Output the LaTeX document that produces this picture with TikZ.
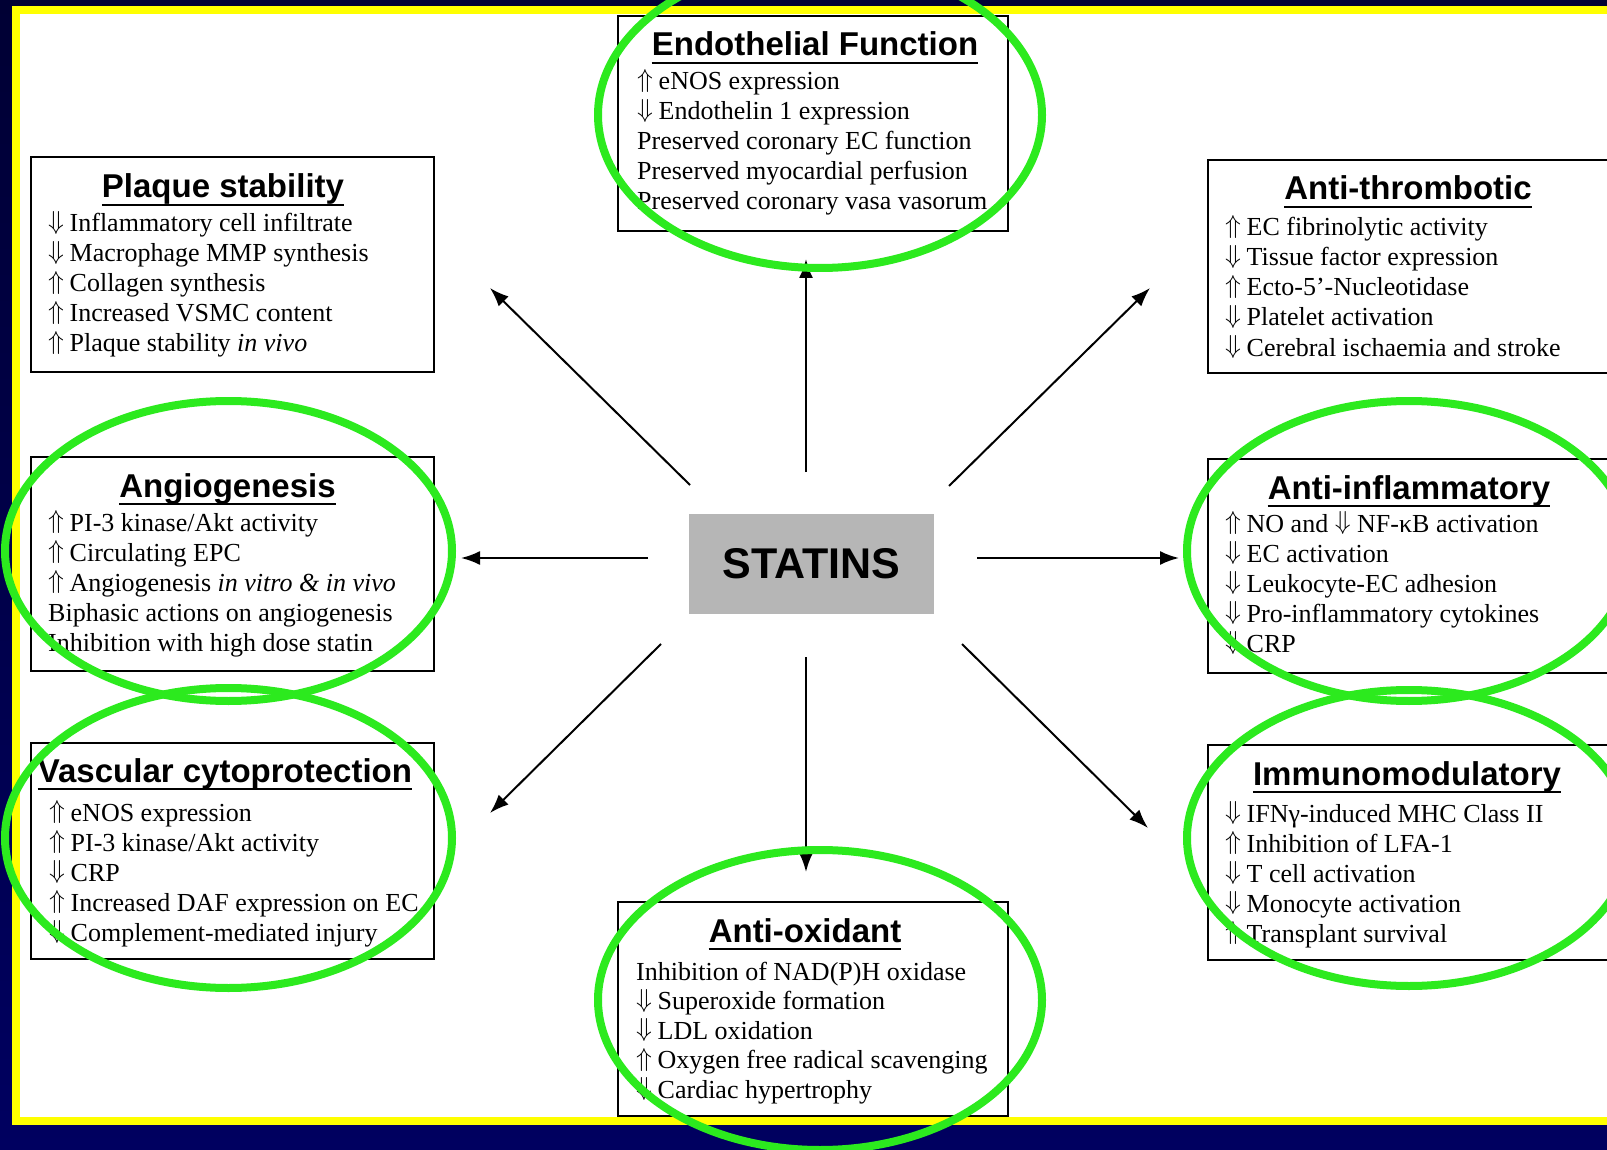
\documentclass[tikz,border=0pt]{standalone}
\usepackage{fix-cm}
\usepackage{fontspec}
\setmainfont{Liberation Serif}
\newfontfamily\titlefont{Liberation Sans}
\usetikzlibrary{arrows.meta}
\definecolor{navytop}{RGB}{0,0,52}
\definecolor{navybot}{RGB}{0,0,96}
\definecolor{frameyellow}{RGB}{255,255,0}
\definecolor{ringgreen}{RGB}{44,234,30}
\definecolor{statgray}{RGB}{182,182,182}
\newcommand\upa{\makebox[21.5pt][l]{\raisebox{0.08em}{$\Uparrow$}}}
\newcommand\dna{\makebox[21.5pt][l]{\raisebox{0.08em}{$\Downarrow$}}}
\begin{document}
\begin{tikzpicture}[x=1pt,y=-1pt,
  boxframe/.style={draw=black, line width=2pt, fill=white, inner sep=0pt, anchor=north west},
  boxtitle/.style={font=\titlefont\bfseries\fontsize{33}{36}\selectfont, inner sep=0pt, anchor=base},
  itemtext/.style={font=\fontsize{26}{30}\selectfont, inner sep=0pt, anchor=base west},
  uline/.style={line width=2pt},
  conn/.style={-{Latex[length=19pt,width=14pt]}, line width=2pt},
  ring/.style={draw=ringgreen, line width=8pt},
  statbox/.style={fill=statgray, minimum width=245pt, minimum height=100pt, inner sep=0pt,
    font=\titlefont\bfseries\fontsize{43}{47}\selectfont}]

\useasboundingbox (0,0) rectangle (1607,1150);
\clip (0,0) rectangle (1607,1150);
\shade[top color=navytop, bottom color=navybot] (0,0) rectangle (1607,1150);
\fill[frameyellow] (12,6) rectangle (1620,1125);
\fill[white] (20,14) rectangle (1620,1117);

% boxes
\node[boxframe, minimum width=403pt, minimum height=215pt] (Pbox) at (30,156) {};
\node[boxframe, minimum width=390pt, minimum height=215pt] (Ebox) at (617,15) {};
\node[boxframe, minimum width=413pt, minimum height=213pt] (Tbox) at (1207,159) {};
\node[boxframe, minimum width=403pt, minimum height=214pt] (Abox) at (30,456) {};
\node[boxframe, minimum width=413pt, minimum height=214pt] (Ibox) at (1207,458) {};
\node[boxframe, minimum width=403pt, minimum height=216pt] (Vbox) at (30,742) {};
\node[boxframe, minimum width=390pt, minimum height=214pt] (Obox) at (617,901) {};
\node[boxframe, minimum width=413pt, minimum height=215pt] (Mbox) at (1207,744) {};

% titles
\node[boxtitle] (Ptitle) at (223,198) {Plaque stability};
\node[boxtitle] (Etitle) at (815,56) {Endothelial Function};
\node[boxtitle] (Ttitle) at (1408,200) {Anti-thrombotic};
\node[boxtitle] (Atitle) at (227.5,497) {Angiogenesis};
\node[boxtitle] (Ititle) at (1409,499) {Anti-inflammatory};
\node[boxtitle] (Vtitle) at (225,782) {Vascular cytoprotection};
\node[boxtitle] (Otitle) at (805,942) {Anti-oxidant};
\node[boxtitle] (Mtitle) at (1407,785) {Immunomodulatory};
\foreach \t in {Ptitle,Etitle,Ttitle,Atitle,Ititle,Vtitle,Otitle,Mtitle}
  \draw[uline] ([yshift=-7pt]\t.base west) -- ([yshift=-7pt]\t.base east);

% items
\foreach \s [count=\i] in {{\dna Inflammatory cell infiltrate},{\dna Macrophage MMP synthesis},{\upa Collagen synthesis},{\upa Increased VSMC content},{\upa Plaque stability \textit{in vivo}}}
  \node[itemtext] (P\i) at (48,{232+30*(\i-1)}) {\s};
\foreach \s [count=\i] in {{\upa eNOS expression},{\dna Endothelin 1 expression},{Preserved coronary EC function},{Preserved myocardial perfusion},{Preserved coronary vasa vasorum}}
  \node[itemtext] (E\i) at (637,{90+30*(\i-1)}) {\s};
\foreach \s [count=\i] in {{\upa EC fibrinolytic activity},{\dna Tissue factor expression},{\upa Ecto-5’-Nucleotidase},{\dna Platelet activation},{\dna Cerebral ischaemia and stroke}}
  \node[itemtext] (T\i) at (1225,{236+30*(\i-1)}) {\s};
\foreach \s [count=\i] in {{\upa PI-3 kinase/Akt activity},{\upa Circulating EPC},{\upa Angiogenesis \textit{in vitro \& in vivo}},{Biphasic actions on angiogenesis},{Inhibition with high dose statin}}
  \node[itemtext] (A\i) at (48,{531+30*(\i-1)}) {\s};
\foreach \s [count=\i] in {{\upa NO and \raisebox{0.08em}{$\Downarrow$} NF-κB activation},{\dna EC activation},{\dna Leukocyte-EC adhesion},{\dna Pro-inflammatory cytokines},{\dna CRP}}
  \node[itemtext] (I\i) at (1225,{532+30*(\i-1)}) {\s};
\foreach \s [count=\i] in {{\upa eNOS expression},{\upa PI-3 kinase/Akt activity},{\dna CRP},{\upa Increased DAF expression on EC},{\dna Complement-mediated injury}}
  \node[itemtext] (V\i) at (49,{821+30*(\i-1)}) {\s};
\foreach \s [count=\i] in {{Inhibition of NAD(P)H oxidase},{\dna Superoxide formation},{\dna LDL oxidation},{\upa Oxygen free radical scavenging},{\dna Cardiac hypertrophy}}
  \node[itemtext] (O\i) at (636,{980+29.5*(\i-1)}) {\s};
\foreach \s [count=\i] in {{\dna IFNγ-induced MHC Class II},{\upa Inhibition of LFA-1},{\dna T cell activation},{\dna Monocyte activation},{\upa Transplant survival}}
  \node[itemtext] (M\i) at (1225,{822+30*(\i-1)}) {\s};

% centre
\node[statbox] (statins) at (811.5,564) {STATINS};

% connectors
\coordinate (uS) at (806,472);  \coordinate (uE) at (806,259);
\coordinate (ulS) at (690,485); \coordinate (ulE) at (490,288);
\coordinate (urS) at (949,486); \coordinate (urE) at (1150,288);
\coordinate (lS) at (648,558);  \coordinate (lE) at (461,558);
\coordinate (rS) at (977,558);  \coordinate (rE) at (1179,558);
\coordinate (llS) at (661,644); \coordinate (llE) at (490,813);
\coordinate (dS) at (806,657);  \coordinate (dE) at (806,872);
\coordinate (lrS) at (962,644); \coordinate (lrE) at (1148,828);
\foreach \a in {u,ul,ur,l,r,ll,d,lr}
  \draw[conn] (\a S) -- (\a E);

% green rings
\draw[ring] (820,115) ellipse [x radius=222, y radius=153];
\draw[ring] (228.5,551) ellipse [x radius=223.5, y radius=150];
\draw[ring] (228.5,838) ellipse [x radius=223.5, y radius=150];
\draw[ring] (820,1000) ellipse [x radius=222, y radius=150];
\draw[ring] (1409,551) ellipse [x radius=222, y radius=150];
\draw[ring] (1409,838) ellipse [x radius=222, y radius=148];
\end{tikzpicture}
\end{document}
